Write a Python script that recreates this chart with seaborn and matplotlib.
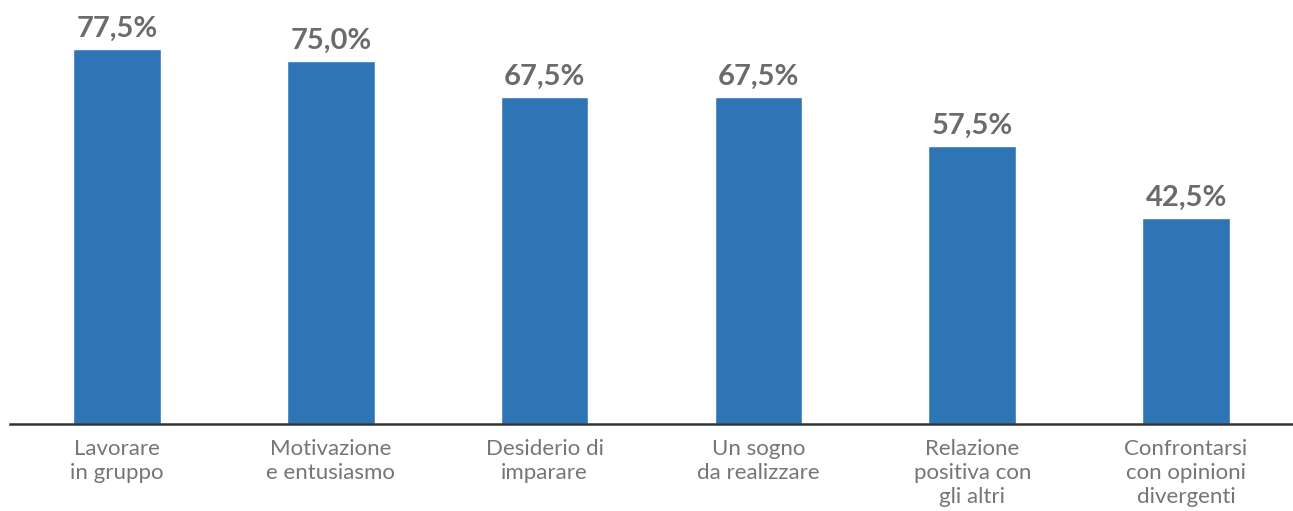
import matplotlib
matplotlib.use("Agg")
import matplotlib.pyplot as plt
import seaborn as sns
import pandas as pd

# Data
categories = [
    "Lavorare\nin gruppo",
    "Motivazione\ne entusiasmo",
    "Desiderio di\nimparare",
    "Un sogno\nda realizzare",
    "Relazione\npositiva con\ngli altri",
    "Confrontarsi\ncon opinioni\ndivergenti",
]
values = [77.5, 75.0, 67.5, 67.5, 57.5, 42.5]

df = pd.DataFrame({"categoria": categories, "valore": values})

sns.set_style("white")
plt.rcParams["font.family"] = ["Lato", "DejaVu Sans"]

fig = plt.figure(figsize=(12.93, 5.11), dpi=100)
ax = fig.add_axes([10 / 1293, 87 / 511, 1283 / 1293, 424 / 511])

sns.barplot(data=df, x="categoria", y="valore", color="#2E75B6",
            width=0.41, saturation=1, ax=ax)

ax.set_xlim(-0.5, 5.5)
ax.set_ylim(0, 87.6)

# Value labels
labels = [f"{v:.1f}%".replace(".", ",") for v in values]
ax.bar_label(ax.containers[0], labels=labels, padding=5,
             fontsize=21, fontweight="bold", color="#6b6b6b")

# Axes styling
for side in ["top", "right", "left"]:
    ax.spines[side].set_visible(False)
ax.spines["bottom"].set_color("#333333")
ax.spines["bottom"].set_linewidth(1.8)
ax.set_yticks([])
ax.set_xlabel("")
ax.set_ylabel("")
ax.tick_params(axis="x", length=0, pad=11)
for t in ax.get_xticklabels():
    t.set_fontsize(16)
    t.set_fontweight("normal")
    t.set_color("#757575")
    t.set_linespacing(1.23)
    t.set_verticalalignment("top")

fig.savefig("out.png", dpi=100)
